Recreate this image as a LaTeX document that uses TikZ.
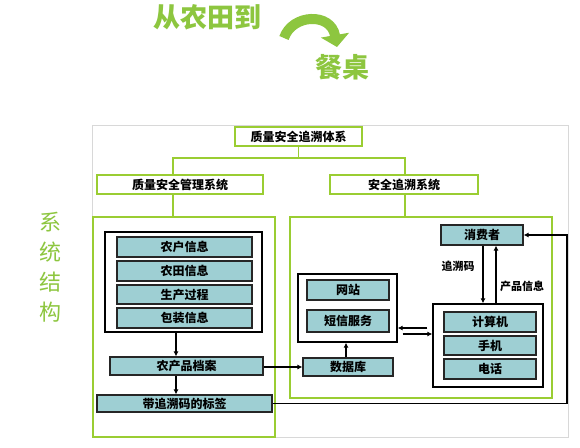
\documentclass[tikz,border=0pt]{standalone}
\usepackage{fontspec}
\setmainfont{Noto Sans CJK SC}
\usetikzlibrary{arrows.meta,calc}
\definecolor{lgreen}{HTML}{9ACD32}
\definecolor{tgreen}{HTML}{8DC63F}
\definecolor{teal}{HTML}{9ECFD3}
\definecolor{frame}{HTML}{D8D8D8}
\tikzset{
  gbox/.style={draw=lgreen,line width=1.5pt,fill=white,inner sep=0pt,font=\fontsize{12}{12}\selectfont\bfseries},
  bigg/.style={draw=lgreen,line width=1.5pt,inner sep=0pt},
  blk/.style={draw=black,line width=1.3pt,fill=white,inner sep=0pt},
  tbox/.style={draw=black!85,line width=1.1pt,fill=teal,inner sep=0pt,font=\fontsize{12}{12}\selectfont\bfseries},
  glink/.style={draw=lgreen,line width=1.5pt},
  arr/.style={draw=black,line width=1.5pt,-{Latex[length=5pt,width=5pt]}},
  con/.style={draw=black,line width=1.5pt},
  lbl/.style={font=\fontsize{11}{11}\selectfont\bfseries,inner sep=0pt},
  ttl/.style={text=tgreen,font=\fontsize{27}{27}\selectfont\bfseries,inner sep=0pt}
}
\begin{document}
\begin{tikzpicture}[x=1pt,y=-1pt]
\useasboundingbox (0,0) rectangle (580,447);
\fill[white] (0,0) rectangle (580,447);
% title
\node[ttl,anchor=west] (t1) at (153,17) {从农田到};
\node[ttl,anchor=west] (t2) at (315,67) {餐桌};
\coordinate (ca) at (284,38);
\coordinate (cb) at (337,47);
\draw[tgreen,line width=10pt,-{Triangle[length=12pt,width=28pt]}] (ca) .. controls (292,14) and (331,12) .. (cb);
\node[text=tgreen,font=\fontsize{22}{30}\selectfont,align=center,inner sep=0pt] (side) at (50,267.5) {系\\统\\结\\构};
% outer frame
\draw[frame,line width=1pt] (92,125) rectangle (568,437);
% green big boxes
\node[bigg,minimum width=182pt,minimum height=220pt] (lg) at (184,327) {};
\node[bigg,minimum width=262pt,minimum height=181pt] (rg) at (421,307.5) {};
% top hierarchy
\node[gbox,minimum width=127pt,minimum height=19pt] (top) at (298.5,136.5) {质量安全追溯体系};
\node[gbox,minimum width=166pt,minimum height=19pt] (mgmt) at (180,184.5) {质量安全管理系统};
\node[gbox,minimum width=148pt,minimum height=19pt] (trc) at (404,184.5) {安全追溯系统};
\coordinate (hl) at (173,158);
\coordinate (hr) at (405,158);
\draw[glink] (top.south) -- (top.south |- hl);
\draw[glink] (mgmt.north -| hl) -- (hl) -- (hr) -- (trc.north -| hr);
\draw[glink] (mgmt.south -| hl) -- (lg.north -| hl);
\draw[glink] (trc.south -| hr) -- (rg.north -| hr);
% left content
\node[blk,minimum width=157pt,minimum height=100pt] (lb) at (183.5,282) {};
\node[tbox,minimum width=135pt,minimum height=20pt] (nh) at (184.5,247) {农户信息};
\node[tbox,minimum width=135pt,minimum height=20pt] (nt) at (184.5,271) {农田信息};
\node[tbox,minimum width=135pt,minimum height=19pt] (sc) at (184.5,294.5) {生产过程};
\node[tbox,minimum width=135pt,minimum height=20pt] (bz) at (184.5,318) {包装信息};
\node[tbox,minimum width=153pt,minimum height=18pt] (da) at (186.5,366) {农产品档案};
\node[tbox,minimum width=175pt,minimum height=17pt] (bq) at (184.5,403.5) {带追溯码的标签};
\coordinate (vx) at (176,0);
\draw[arr] (lb.south -| vx) -- (da.north -| vx);
\draw[arr] (da.south -| vx) -- (bq.north -| vx);
% right content
\node[blk,minimum width=99pt,minimum height=68pt] (rb) at (347.5,308) {};
\node[tbox,minimum width=82pt,minimum height=20pt] (wz) at (348,290) {网站};
\node[tbox,minimum width=82pt,minimum height=22pt] (dx) at (348,321) {短信服务};
\node[tbox,minimum width=90pt,minimum height=18pt] (sjk) at (348,367) {数据库};
\node[tbox,minimum width=82pt,minimum height=20pt] (xfz) at (482,235) {消费者};
\node[blk,minimum width=110pt,minimum height=83pt] (cb2) at (488,345.5) {};
\node[tbox,minimum width=92pt,minimum height=20pt] (jsj) at (490,322) {计算机};
\node[tbox,minimum width=92pt,minimum height=19pt] (sj) at (490,345.5) {手机};
\node[tbox,minimum width=92pt,minimum height=20pt] (dh) at (490,369) {电话};
% connectors
\draw[arr] (da.east |- sjk.west) -- (sjk.west);
\coordinate (rx) at (567,0);
\draw[arr] (bq.east) -- (bq.east -| rx) |- (xfz.east);
\draw[arr] (sjk.north -| 346,0) -- (rb.south -| 346,0);
\coordinate (ya) at (0,328);
\coordinate (yb) at (0,334);
\draw[arr] ([xshift=-5pt]cb2.west |- ya) -- (rb.east |- ya);
\draw[arr] ([xshift=5pt]rb.east |- yb) -- (cb2.west |- yb);
\coordinate (xd) at (483,0);
\coordinate (xu) at (496,0);
\draw[arr] (xfz.south -| xd) -- (cb2.north -| xd);
\draw[arr] (cb2.north -| xu) -- (xfz.south -| xu);
\node[lbl] (l1) at (458,266) {追溯码};
\node[lbl] (l2) at (522,286) {产品信息};
\end{tikzpicture}
\end{document}
